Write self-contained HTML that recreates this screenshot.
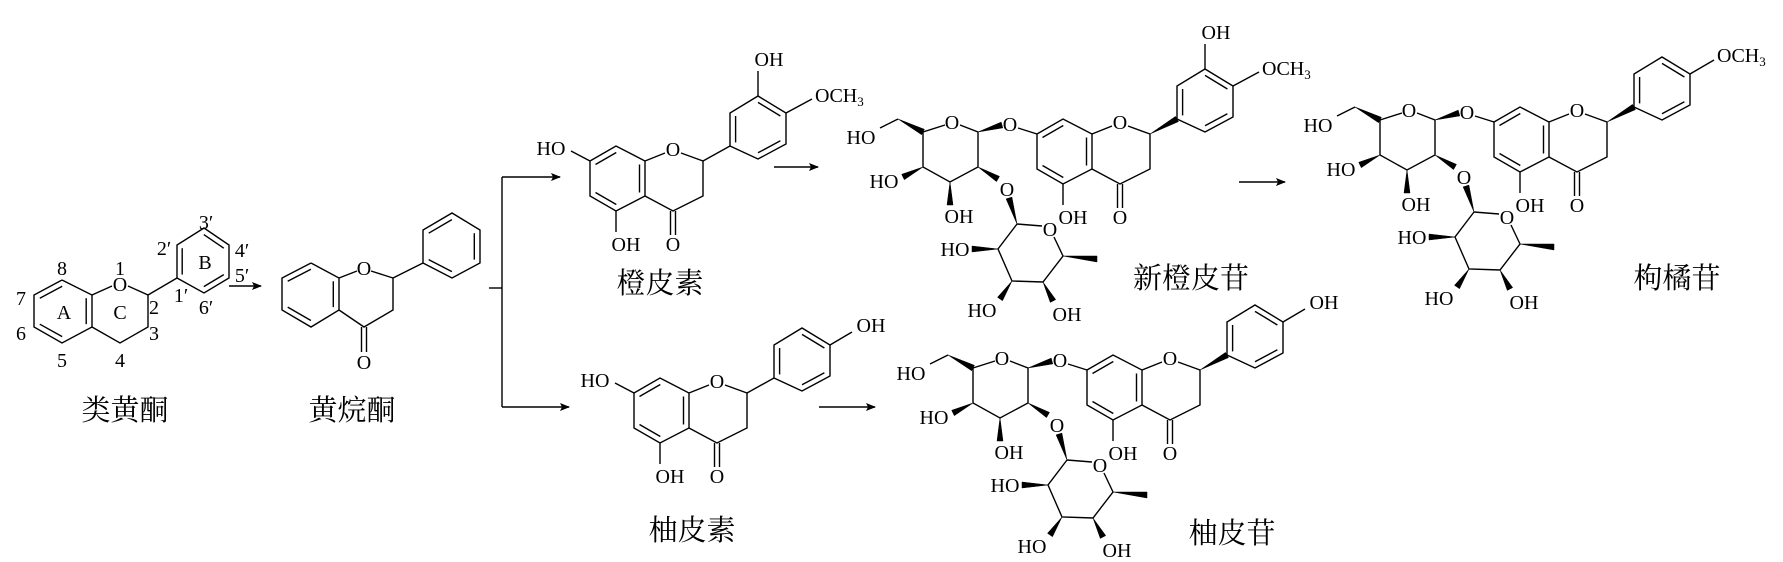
<!DOCTYPE html>
<html><head><meta charset="utf-8"><style>
html,body{margin:0;padding:0;background:#fff;}
svg{display:block;}
text{font-family:"Liberation Serif","Noto Serif CJK SC",serif;fill:#000;}
.a{font-size:20px;text-anchor:middle;}
.n{font-size:20px;text-anchor:middle;}
.c{font-size:29px;text-anchor:middle;font-family:"Liberation Serif","Noto Serif CJK SC","Noto Sans CJK SC",serif;}
line,polyline{stroke:#000;stroke-width:1.4;fill:none;}
polygon.w{fill:#000;stroke:#000;stroke-width:0.5;}
</style></head><body>
<svg width="1783" height="562" viewBox="0 0 1783 562" xmlns="http://www.w3.org/2000/svg">
<defs>
<marker id="ah" markerWidth="10" markerHeight="8" refX="9" refY="4" orient="auto" markerUnits="userSpaceOnUse">
<polygon points="0,0 10,4 0,8 2,4" fill="#000"/>
</marker>
</defs>

<!-- ===== Flavonoid skeleton ===== -->
<g>
<polyline points="62,280 34,295 34,327 62,343 92,327 92,295 62,280"/>
<line x1="62.2" y1="286.2" x2="39.8" y2="298.2"/>
<line x1="86.2" y1="298.2" x2="86.2" y2="324.2"/>
<line x1="62.2" y1="336.6" x2="39.8" y2="324.2"/>
<line x1="92" y1="295" x2="112" y2="286"/>
<line x1="128" y1="286" x2="148" y2="295"/>
<polyline points="148,295 148,327 120,343 92,327"/>
<line x1="148" y1="295" x2="177" y2="278"/>
<polyline points="177,278 177,245 204,228 229,245 229,278 204,293 177,278"/>
<line x1="182.2" y1="274.6" x2="182.2" y2="248.2"/>
<line x1="203.8" y1="234.6" x2="223.8" y2="248.2"/>
<line x1="223.8" y1="274.6" x2="203.8" y2="286.6"/>
<text class="a" x="120" y="291">O</text>
<text class="n" x="62" y="275">8</text>
<text class="n" x="21" y="305">7</text>
<text class="n" x="21" y="340">6</text>
<text class="n" x="62" y="367">5</text>
<text class="n" x="120" y="367">4</text>
<text class="n" x="154" y="340">3</text>
<text class="n" x="154" y="314">2</text>
<text class="n" x="120" y="275">1</text>
<text class="n" x="181" y="302">1′</text>
<text class="n" x="164" y="255">2′</text>
<text class="n" x="206" y="229">3′</text>
<text class="n" x="242" y="257">4′</text>
<text class="n" x="242" y="282">5′</text>
<text class="n" x="206" y="314">6′</text>
<text class="n" x="64" y="319">A</text>
<text class="n" x="205" y="269">B</text>
<text class="n" x="120" y="319">C</text>
<line x1="229" y1="286" x2="261" y2="286" marker-end="url(#ah)"/>
<text class="c" x="125" y="420">类黄酮</text>
</g>

<!-- ===== Flavanone ===== -->
<g>
<polyline points="311,263 282,278 282,310 311,327 339,310 339,278 311,263"/>
<line x1="310.9" y1="269.3" x2="287.7" y2="281.3"/>
<line x1="333.3" y1="281.3" x2="333.3" y2="307.1"/>
<line x1="310.9" y1="320.5" x2="287.7" y2="307.1"/>
<line x1="339" y1="278" x2="357" y2="271"/>
<line x1="371" y1="271" x2="393" y2="278"/>
<polyline points="393,278 393,310 364,327 339,310"/>
<line x1="361.5" y1="327" x2="361.5" y2="352"/>
<line x1="366.5" y1="327" x2="366.5" y2="352"/>
<text class="a" x="364" y="275">O</text>
<text class="a" x="364" y="369">O</text>
<line x1="393" y1="278" x2="423" y2="263"/>
<polyline points="423,263 423,230 452,213 480,230 480,263 452,278 423,263"/>
<line x1="428.7" y1="233.2" x2="451.9" y2="219.6"/>
<line x1="474.3" y1="233.2" x2="474.3" y2="259.6"/>
<line x1="428.7" y1="259.6" x2="451.9" y2="271.6"/>
<text class="c" x="352" y="420">黄烷酮</text>
</g>

<!-- ===== Bracket & arrows ===== -->
<line x1="489" y1="288" x2="502" y2="288"/>
<line x1="502" y1="177" x2="502" y2="407"/>
<line x1="502" y1="177" x2="560" y2="177" marker-end="url(#ah)"/>
<line x1="502" y1="407" x2="569" y2="407" marker-end="url(#ah)"/>
<line x1="774" y1="167" x2="818" y2="167" marker-end="url(#ah)"/>
<line x1="1239" y1="182" x2="1285" y2="182" marker-end="url(#ah)"/>
<line x1="819" y1="407" x2="875" y2="407" marker-end="url(#ah)"/>

<!-- ===== Hesperetin ===== -->
<g transform="translate(-497,-209)">
<polyline points="1087,370 1113,355 1142,370 1142,405 1113,420 1087,405 1087,370"/>
<line x1="1092.5" y1="373.5" x2="1113.3" y2="361.5"/>
<line x1="1136.5" y1="373.5" x2="1136.5" y2="401.5"/>
<line x1="1113.3" y1="413.5" x2="1092.5" y2="401.5"/>
<line x1="1142" y1="370" x2="1162" y2="362"/>
<line x1="1178" y1="362" x2="1200" y2="370"/>
<polyline points="1200,370 1200,405 1170,420 1142,405"/>
<line x1="1167.5" y1="420" x2="1167.5" y2="444"/>
<line x1="1172.5" y1="420" x2="1172.5" y2="444"/>
<line x1="1113" y1="420" x2="1113" y2="441"/>
<text class="a" x="1170" y="365">O</text>
<text class="a" x="1170" y="460">O</text>
<text class="a" x="1123" y="460">OH</text>
<line x1="1087" y1="370" x2="1068" y2="360"/>
<text class="a" x="1048" y="364">HO</text>
<line x1="1200" y1="370" x2="1227" y2="355"/>
<polyline points="1227,355 1227,322 1255,305 1283,322 1283,353 1255,368 1227,355"/>
<line x1="1232.6" y1="351.4" x2="1232.6" y2="325"/>
<line x1="1255" y1="311.4" x2="1277.4" y2="325"/>
<line x1="1277.4" y1="349.8" x2="1255" y2="361.8"/>
<line x1="1255" y1="305" x2="1255" y2="280"/>
<text class="a" x="1266" y="275">OH</text>
<line x1="1283" y1="322" x2="1309" y2="308"/>
<text x="1312" y="311" font-size="20">OCH<tspan font-size="13" dy="4">3</tspan></text>
</g>
<text class="c" x="660" y="293">橙皮素</text>

<!-- ===== Naringenin ===== -->
<g transform="translate(-453,23)">
<polyline points="1087,370 1113,355 1142,370 1142,405 1113,420 1087,405 1087,370"/>
<line x1="1092.5" y1="373.5" x2="1113.3" y2="361.5"/>
<line x1="1136.5" y1="373.5" x2="1136.5" y2="401.5"/>
<line x1="1113.3" y1="413.5" x2="1092.5" y2="401.5"/>
<line x1="1142" y1="370" x2="1162" y2="362"/>
<line x1="1178" y1="362" x2="1200" y2="370"/>
<polyline points="1200,370 1200,405 1170,420 1142,405"/>
<line x1="1167.5" y1="420" x2="1167.5" y2="444"/>
<line x1="1172.5" y1="420" x2="1172.5" y2="444"/>
<line x1="1113" y1="420" x2="1113" y2="441"/>
<text class="a" x="1170" y="365">O</text>
<text class="a" x="1170" y="460">O</text>
<text class="a" x="1123" y="460">OH</text>
<line x1="1087" y1="370" x2="1068" y2="360"/>
<text class="a" x="1048" y="364">HO</text>
<line x1="1200" y1="370" x2="1227" y2="355"/>
<polyline points="1227,355 1227,322 1255,305 1283,322 1283,353 1255,368 1227,355"/>
<line x1="1232.6" y1="351.4" x2="1232.6" y2="325"/>
<line x1="1255" y1="311.4" x2="1277.4" y2="325"/>
<line x1="1277.4" y1="349.8" x2="1255" y2="361.8"/>
<line x1="1283" y1="322" x2="1305" y2="309"/>
<text class="a" x="1324" y="309">OH</text>
</g>
<text class="c" x="692" y="540">柚皮素</text>

<!-- ===== Glycoside template used 3 times ===== -->
<!-- Naringin (identity) -->
<g id="nar">
<polyline points="995,361 973,368 973,403 1000,418 1028,403 1028,368 1010,361"/>
<text class="a" x="1002" y="365">O</text>
<polygon class="w" points="948,355 971.6,370.7 974.4,365.3"/>
<line x1="948" y1="355" x2="930" y2="364"/>
<text class="a" x="911" y="380">HO</text>
<polygon class="w" points="973,403 954.3,415.7 951.7,410.3"/>
<text class="a" x="934" y="424">HO</text>
<polygon class="w" points="1000,418 1003,441 997,441"/>
<text class="a" x="1009" y="459">OH</text>
<polygon class="w" points="1028,368 1052.8,363.9 1051.2,358.1"/>
<text class="a" x="1060" y="367">O</text>
<line x1="1068" y1="364" x2="1087" y2="370"/>
<polygon class="w" points="1028,403 1046.5,417.6 1049.5,412.4"/>
<text class="a" x="1057" y="432">O</text>
<polygon class="w" points="1067,460 1061.9,433.1 1056.1,434.9"/>
<line x1="1067" y1="460" x2="1092" y2="462"/>
<text class="a" x="1100" y="472">O</text>
<polyline points="1104,473 1113,492 1093,518 1062,517 1048,485 1067,460"/>
<polygon class="w" points="1113,492 1147,498 1147,492"/>
<polygon class="w" points="1048,485 1022,482 1022,488"/>
<text class="a" x="1005" y="492">HO</text>
<polygon class="w" points="1062,517 1052.5,536.7 1047.5,533.3"/>
<text class="a" x="1032" y="553">HO</text>
<polygon class="w" points="1093,518 1105.7,535.6 1100.3,538.4"/>
<text class="a" x="1117" y="557">OH</text>
<!-- aglycone -->
<polyline points="1087,370 1113,355 1142,370 1142,405 1113,420 1087,405 1087,370"/>
<line x1="1092.5" y1="373.5" x2="1113.3" y2="361.5"/>
<line x1="1136.5" y1="373.5" x2="1136.5" y2="401.5"/>
<line x1="1113.3" y1="413.5" x2="1092.5" y2="401.5"/>
<line x1="1142" y1="370" x2="1162" y2="362"/>
<line x1="1178" y1="362" x2="1200" y2="370"/>
<polyline points="1200,370 1200,405 1170,420 1142,405"/>
<line x1="1167.5" y1="420" x2="1167.5" y2="444"/>
<line x1="1172.5" y1="420" x2="1172.5" y2="444"/>
<line x1="1113" y1="420" x2="1113" y2="441"/>
<text class="a" x="1170" y="365">O</text>
<text class="a" x="1170" y="460">O</text>
<text class="a" x="1123" y="460">OH</text>
<polygon class="w" points="1200,370 1228.5,357.6 1225.5,352.4"/>
<polyline points="1227,355 1227,322 1255,305 1283,322 1283,353 1255,368 1227,355"/>
<line x1="1232.6" y1="351.4" x2="1232.6" y2="325"/>
<line x1="1255" y1="311.4" x2="1277.4" y2="325"/>
<line x1="1277.4" y1="349.8" x2="1255" y2="361.8"/>
<line x1="1283" y1="322" x2="1305" y2="309"/>
<text class="a" x="1324" y="309">OH</text>
</g>
<text class="c" x="1232" y="543">柚皮苷</text>

<!-- Neohesperidin -->
<g transform="translate(-50,-236)">
<polyline points="995,361 973,368 973,403 1000,418 1028,403 1028,368 1010,361"/>
<text class="a" x="1002" y="365">O</text>
<polygon class="w" points="948,355 971.6,370.7 974.4,365.3"/>
<line x1="948" y1="355" x2="930" y2="364"/>
<text class="a" x="911" y="380">HO</text>
<polygon class="w" points="973,403 954.3,415.7 951.7,410.3"/>
<text class="a" x="934" y="424">HO</text>
<polygon class="w" points="1000,418 1003,441 997,441"/>
<text class="a" x="1009" y="459">OH</text>
<polygon class="w" points="1028,368 1052.8,363.9 1051.2,358.1"/>
<text class="a" x="1060" y="367">O</text>
<line x1="1068" y1="364" x2="1087" y2="370"/>
<polygon class="w" points="1028,403 1046.5,417.6 1049.5,412.4"/>
<text class="a" x="1057" y="432">O</text>
<polygon class="w" points="1067,460 1061.9,433.1 1056.1,434.9"/>
<line x1="1067" y1="460" x2="1092" y2="462"/>
<text class="a" x="1100" y="472">O</text>
<polyline points="1104,473 1113,492 1093,518 1062,517 1048,485 1067,460"/>
<polygon class="w" points="1113,492 1147,498 1147,492"/>
<polygon class="w" points="1048,485 1022,482 1022,488"/>
<text class="a" x="1005" y="492">HO</text>
<polygon class="w" points="1062,517 1052.5,536.7 1047.5,533.3"/>
<text class="a" x="1032" y="553">HO</text>
<polygon class="w" points="1093,518 1105.7,535.6 1100.3,538.4"/>
<text class="a" x="1117" y="557">OH</text>
<polyline points="1087,370 1113,355 1142,370 1142,405 1113,420 1087,405 1087,370"/>
<line x1="1092.5" y1="373.5" x2="1113.3" y2="361.5"/>
<line x1="1136.5" y1="373.5" x2="1136.5" y2="401.5"/>
<line x1="1113.3" y1="413.5" x2="1092.5" y2="401.5"/>
<line x1="1142" y1="370" x2="1162" y2="362"/>
<line x1="1178" y1="362" x2="1200" y2="370"/>
<polyline points="1200,370 1200,405 1170,420 1142,405"/>
<line x1="1167.5" y1="420" x2="1167.5" y2="444"/>
<line x1="1172.5" y1="420" x2="1172.5" y2="444"/>
<line x1="1113" y1="420" x2="1113" y2="441"/>
<text class="a" x="1170" y="365">O</text>
<text class="a" x="1170" y="460">O</text>
<text class="a" x="1123" y="460">OH</text>
<polygon class="w" points="1200,370 1228.5,357.6 1225.5,352.4"/>
<polyline points="1227,355 1227,322 1255,305 1283,322 1283,353 1255,368 1227,355"/>
<line x1="1232.6" y1="351.4" x2="1232.6" y2="325"/>
<line x1="1255" y1="311.4" x2="1277.4" y2="325"/>
<line x1="1277.4" y1="349.8" x2="1255" y2="361.8"/>
<line x1="1255" y1="305" x2="1255" y2="280"/>
<text class="a" x="1266" y="275">OH</text>
<line x1="1283" y1="322" x2="1309" y2="308"/>
<text x="1312" y="311" font-size="20">OCH<tspan font-size="13" dy="4">3</tspan></text>
</g>
<text class="c" x="1191" y="288">新橙皮苷</text>

<!-- Poncirin -->
<g transform="translate(407,-248)">
<polyline points="995,361 973,368 973,403 1000,418 1028,403 1028,368 1010,361"/>
<text class="a" x="1002" y="365">O</text>
<polygon class="w" points="948,355 971.6,370.7 974.4,365.3"/>
<line x1="948" y1="355" x2="930" y2="364"/>
<text class="a" x="911" y="380">HO</text>
<polygon class="w" points="973,403 954.3,415.7 951.7,410.3"/>
<text class="a" x="934" y="424">HO</text>
<polygon class="w" points="1000,418 1003,441 997,441"/>
<text class="a" x="1009" y="459">OH</text>
<polygon class="w" points="1028,368 1052.8,363.9 1051.2,358.1"/>
<text class="a" x="1060" y="367">O</text>
<line x1="1068" y1="364" x2="1087" y2="370"/>
<polygon class="w" points="1028,403 1046.5,417.6 1049.5,412.4"/>
<text class="a" x="1057" y="432">O</text>
<polygon class="w" points="1067,460 1061.9,433.1 1056.1,434.9"/>
<line x1="1067" y1="460" x2="1092" y2="462"/>
<text class="a" x="1100" y="472">O</text>
<polyline points="1104,473 1113,492 1093,518 1062,517 1048,485 1067,460"/>
<polygon class="w" points="1113,492 1147,498 1147,492"/>
<polygon class="w" points="1048,485 1022,482 1022,488"/>
<text class="a" x="1005" y="492">HO</text>
<polygon class="w" points="1062,517 1052.5,536.7 1047.5,533.3"/>
<text class="a" x="1032" y="553">HO</text>
<polygon class="w" points="1093,518 1105.7,535.6 1100.3,538.4"/>
<text class="a" x="1117" y="557">OH</text>
<polyline points="1087,370 1113,355 1142,370 1142,405 1113,420 1087,405 1087,370"/>
<line x1="1092.5" y1="373.5" x2="1113.3" y2="361.5"/>
<line x1="1136.5" y1="373.5" x2="1136.5" y2="401.5"/>
<line x1="1113.3" y1="413.5" x2="1092.5" y2="401.5"/>
<line x1="1142" y1="370" x2="1162" y2="362"/>
<line x1="1178" y1="362" x2="1200" y2="370"/>
<polyline points="1200,370 1200,405 1170,420 1142,405"/>
<line x1="1167.5" y1="420" x2="1167.5" y2="444"/>
<line x1="1172.5" y1="420" x2="1172.5" y2="444"/>
<line x1="1113" y1="420" x2="1113" y2="441"/>
<text class="a" x="1170" y="365">O</text>
<text class="a" x="1170" y="460">O</text>
<text class="a" x="1123" y="460">OH</text>
<polygon class="w" points="1200,370 1228.5,357.6 1225.5,352.4"/>
<polyline points="1227,355 1227,322 1255,305 1283,322 1283,353 1255,368 1227,355"/>
<line x1="1232.6" y1="351.4" x2="1232.6" y2="325"/>
<line x1="1255" y1="311.4" x2="1277.4" y2="325"/>
<line x1="1277.4" y1="349.8" x2="1255" y2="361.8"/>
<line x1="1283" y1="322" x2="1307" y2="308"/>
<text x="1310" y="310" font-size="20">OCH<tspan font-size="13" dy="4">3</tspan></text>
</g>
<text class="c" x="1677" y="288">枸橘苷</text>
</svg>
</body></html>
